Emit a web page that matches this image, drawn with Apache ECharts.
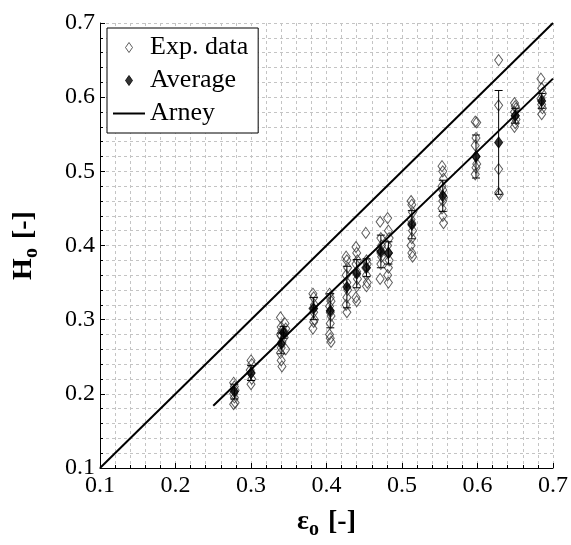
<!DOCTYPE html>
<html><head><meta charset="utf-8">
<script src="https://cdn.jsdelivr.net/npm/echarts@6/dist/echarts.min.js"></script>
<style>html,body{margin:0;padding:0;background:#fff}#c{width:571px;height:545px}</style>
</head><body><div id="c"></div>
<script>
// Experimental data points [eps_o, H_o]
const expData = [
  [0.277,0.215],[0.278,0.210],[0.279,0.205],[0.277,0.200],[0.278,0.195],[0.279,0.188],[0.277,0.186],
  [0.300,0.245],[0.301,0.240],[0.299,0.232],[0.300,0.228],[0.301,0.220],[0.300,0.213],
  [0.339,0.303],[0.340,0.290],[0.341,0.285],[0.339,0.280],[0.340,0.278],[0.341,0.270],[0.340,0.262],[0.339,0.255],[0.340,0.245],[0.341,0.237],
  [0.345,0.295],[0.346,0.288],[0.345,0.282],[0.344,0.276],[0.346,0.260],
  [0.382,0.335],[0.383,0.330],[0.384,0.320],[0.382,0.315],[0.383,0.310],[0.384,0.300],[0.383,0.297],[0.382,0.288],
  [0.404,0.335],[0.405,0.330],[0.406,0.325],[0.404,0.318],[0.405,0.310],[0.406,0.305],[0.405,0.295],[0.404,0.280],[0.405,0.275],[0.406,0.270],
  [0.426,0.385],[0.427,0.380],[0.428,0.370],[0.426,0.360],[0.427,0.350],[0.428,0.340],[0.427,0.330],[0.426,0.320],[0.427,0.310],
  [0.439,0.398],[0.440,0.390],[0.441,0.380],[0.439,0.375],[0.440,0.365],[0.441,0.355],[0.440,0.345],[0.439,0.330],[0.440,0.325],
  [0.452,0.417],[0.453,0.380],[0.454,0.375],[0.452,0.370],[0.453,0.360],[0.454,0.350],[0.453,0.345],
  [0.471,0.432],[0.472,0.410],[0.473,0.400],[0.471,0.395],[0.472,0.390],[0.473,0.385],[0.472,0.375],[0.471,0.355],
  [0.481,0.437],[0.482,0.420],[0.483,0.410],[0.481,0.400],[0.482,0.390],[0.483,0.380],[0.482,0.370],[0.481,0.360],[0.482,0.350],
  [0.512,0.460],[0.513,0.455],[0.514,0.445],[0.512,0.435],[0.513,0.430],[0.514,0.420],[0.513,0.410],[0.512,0.400],[0.513,0.390],[0.514,0.385],
  [0.553,0.507],[0.554,0.500],[0.555,0.490],[0.553,0.480],[0.554,0.475],[0.555,0.465],[0.554,0.460],[0.553,0.450],[0.554,0.440],[0.555,0.430],
  [0.597,0.567],[0.599,0.566],[0.598,0.545],[0.597,0.535],[0.598,0.520],[0.599,0.510],[0.598,0.505],[0.597,0.496],
  [0.628,0.650],[0.628,0.589],[0.628,0.503],[0.628,0.471],[0.629,0.469],
  [0.649,0.592],[0.650,0.588],[0.651,0.585],[0.649,0.580],[0.650,0.575],[0.651,0.570],[0.650,0.565],[0.649,0.560],
  [0.684,0.625],[0.685,0.612],[0.686,0.605],[0.684,0.598],[0.685,0.590],[0.686,0.585],[0.685,0.577]
];
// Averages with error half-widths
const avgX   = [0.278,0.300,0.340,0.343,0.383,0.405,0.427,0.440,0.453,0.472,0.482,0.513,0.554,0.598,0.628,0.650,0.685];
const avgY   = [0.203,0.228,0.268,0.283,0.315,0.312,0.344,0.362,0.370,0.392,0.390,0.428,0.467,0.520,0.539,0.575,0.595];
const avgErr = [0.010,0.010,0.014,0.008,0.015,0.023,0.028,0.019,0.012,0.022,0.015,0.019,0.021,0.029,0.070,0.010,0.010];
// Arney correlation and fitted line
const arneyX = [0.1, 0.7];
const arneyY = [0.1, 0.7];
const fitX = [0.25, 0.70];
const fitY = [0.184, 0.625];
const axisTicks = [0.1,0.2,0.3,0.4,0.5,0.6,0.7];
const legendNames = ['Exp. data','Average','Arney'];

const FONT = "'Liberation Serif', 'Times New Roman', serif";
const avgData = avgX.map((x,i)=>[x, avgY[i]]);
const errData = avgX.map((x,i)=>[x, avgY[i], avgY[i]-avgErr[i], avgY[i]+avgErr[i]]);

const chart = echarts.init(document.getElementById('c'), null, {renderer:'canvas'});
const gridLine = {show:true, lineStyle:{color:'#c4c4c4', type:[3,3], width:1}};
function axisCommon(){
  return {
    type:'value', min:axisTicks[0], max:axisTicks[axisTicks.length-1], interval:0.1,
    axisLine:{show:true, onZero:false, lineStyle:{color:'#000', width:1}},
    axisTick:{show:true, inside:true, length:5, lineStyle:{color:'#000'}},
    minorTick:{show:true, splitNumber:5, length:3, lineStyle:{color:'#000'}},
    splitLine:gridLine,
    minorSplitLine:gridLine,
    axisLabel:{color:'#000', fontFamily:FONT, fontSize:24, margin:6, formatter:v=>v.toFixed(1)}
  };
}
const richTitle = {
  n:{fontFamily:FONT, fontWeight:'bold', fontSize:28, color:'#000'},
  s:{fontFamily:FONT, fontWeight:'bold', fontSize:20, color:'#000', padding:[16,2,0,0]}
};
const xAxis = Object.assign(axisCommon(), {
  name:'{n|ε}{s|o}{n| [-]}', nameLocation:'middle', nameGap:36,
  nameTextStyle:{rich:richTitle}
});
const yAxis = Object.assign(axisCommon(), {
  name:'{n|H}{s|o}{n| [-]}', nameLocation:'middle', nameGap:58, nameRotate:90,
  nameTextStyle:{rich:richTitle}
});
yAxis.axisLabel.margin = 5;

const diamondPath = 'path://M7,0 L14,10 L7,20 L0,10 Z';
const linePath = 'path://M0,0 H64 V4 H0 Z';

chart.setOption({
  animation:false,
  backgroundColor:'#fff',
  grid:{left:100, right:18, top:23, bottom:72, containLabel:false},
  xAxis:xAxis, yAxis:yAxis,
  legend:{
    left:107, top:28, orient:'vertical',
    symbolKeepAspect:true,
    data:[
      {name:legendNames[0], icon:diamondPath, itemStyle:{color:'#fff', borderColor:'#333', borderWidth:1}},
      {name:legendNames[1], icon:diamondPath, itemStyle:{color:'#000', borderColor:'#000', borderWidth:1}},
      {name:legendNames[2], icon:linePath, itemStyle:{color:'#000', borderWidth:0}}
    ],
    backgroundColor:'#fff', borderColor:'#000', borderWidth:1,
    padding:[6,10,6,6], itemWidth:32, itemHeight:10, itemGap:6,
    textStyle:{fontFamily:FONT, fontSize:26, color:'#000', lineHeight:27}
  },
  series:[
    {name:'Exp. data', type:'scatter', data:expData, symbol:'diamond', symbolSize:[8,11],
     itemStyle:{color:'rgba(255,255,255,0)', borderColor:'#333', borderWidth:1}, z:2},
    {name:'errbar', type:'custom', data:errData, z:3,
     renderItem:function(params, api){
       const x=api.value(0), lo=api.value(2), hi=api.value(3);
       const p1=api.coord([x,lo]), p2=api.coord([x,hi]);
       const w=4;
       const st={stroke:'#000', lineWidth:1};
       return {type:'group', children:[
         {type:'line', shape:{x1:p1[0],y1:p1[1],x2:p2[0],y2:p2[1]}, style:st},
         {type:'line', shape:{x1:p1[0]-w,y1:p1[1],x2:p1[0]+w,y2:p1[1]}, style:st},
         {type:'line', shape:{x1:p2[0]-w,y1:p2[1],x2:p2[0]+w,y2:p2[1]}, style:st}
       ]};
     }},
    {name:'Average', type:'scatter', data:avgData, symbol:'diamond', symbolSize:[8,11],
     itemStyle:{color:'#000', borderColor:'#000', borderWidth:1}, z:4},
    {name:'Arney', type:'line', data:arneyX.map((x,i)=>[x,arneyY[i]]), symbol:'none',
     lineStyle:{color:'#000', width:2}, itemStyle:{color:'#000'}, z:5},
    {name:'fit', type:'line', data:fitX.map((x,i)=>[x,fitY[i]]), symbol:'none',
     lineStyle:{color:'#000', width:2}, z:5}
  ]
});
</script></body></html>
